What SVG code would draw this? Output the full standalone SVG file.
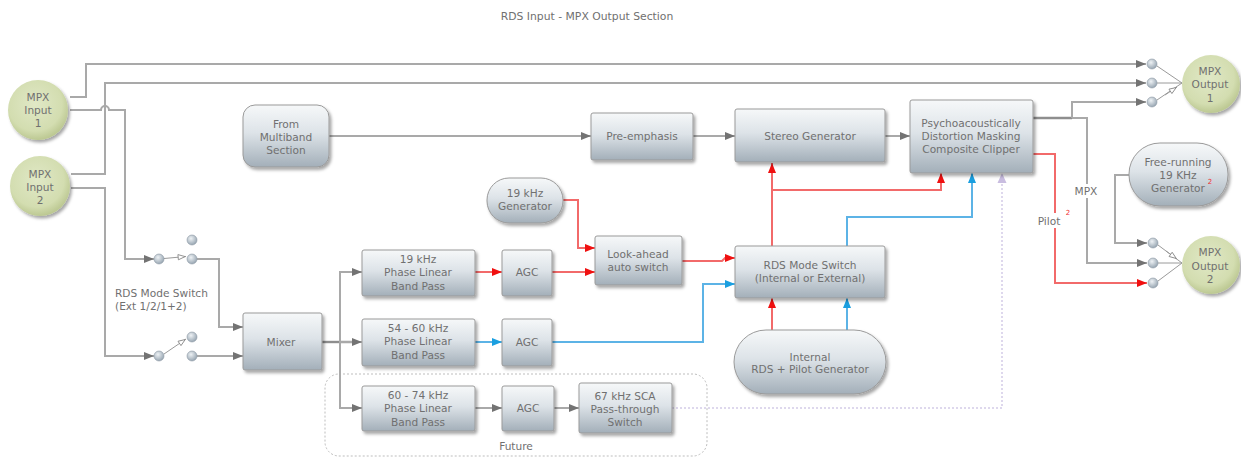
<svg xmlns="http://www.w3.org/2000/svg" width="1241" height="458" viewBox="0 0 1241 458">
<defs>
<linearGradient id="gBox" x1="0" y1="0" x2="0" y2="1">
<stop offset="0" stop-color="#f6f8f9"/><stop offset="0.45" stop-color="#dde3e8"/><stop offset="1" stop-color="#a3afb9"/>
</linearGradient>
<radialGradient id="gCirc" cx="0.45" cy="0.4" r="0.6">
<stop offset="0" stop-color="#e0e8c6"/><stop offset="0.75" stop-color="#d3ddb0"/><stop offset="1" stop-color="#bcc892"/>
</radialGradient>
<radialGradient id="gDot" cx="0.4" cy="0.35" r="0.65">
<stop offset="0" stop-color="#eef2f5"/><stop offset="1" stop-color="#98a6b2"/>
</radialGradient>
<filter id="sh" x="-20%" y="-20%" width="150%" height="160%">
<feDropShadow dx="2" dy="2.5" stdDeviation="1.6" flood-color="#000" flood-opacity="0.35"/>
</filter>
<marker id="ag" viewBox="0 0 10 8" refX="10" refY="4" markerWidth="10" markerHeight="8" markerUnits="userSpaceOnUse" orient="auto"><path d="M0,0 L10,4 L0,8 z" fill="#737373"/></marker>
<marker id="ar" viewBox="0 0 10 8" refX="10" refY="4" markerWidth="10" markerHeight="8" markerUnits="userSpaceOnUse" orient="auto"><path d="M0,0 L10,4 L0,8 z" fill="#f01010"/></marker>
<marker id="ab" viewBox="0 0 10 8" refX="10" refY="4" markerWidth="10" markerHeight="8" markerUnits="userSpaceOnUse" orient="auto"><path d="M0,0 L10,4 L0,8 z" fill="#1a9fe0"/></marker>
<marker id="ao" viewBox="0 0 10 8" refX="10" refY="4" markerWidth="9" markerHeight="7" markerUnits="userSpaceOnUse" orient="auto"><path d="M1,1 L9,4 L1,7 z" fill="#fff" stroke="#8a8a8a" stroke-width="1"/></marker>
</defs>
<style>
.box{fill:url(#gBox);stroke:#9a9a9a;stroke-width:1;filter:url(#sh)}
.circ{fill:url(#gCirc);filter:url(#sh)}
.dot{fill:url(#gDot);stroke:#8d99a4;stroke-width:0.6}
text{font-family:"DejaVu Sans","Liberation Sans",sans-serif;font-size:10.6px;fill:#707070;text-anchor:middle}
.lbl{text-anchor:start}
.sup{font-size:7px;fill:#f03030}
.cg{fill:none;stroke:#a9a9a9;stroke-width:2}
.cgd{fill:none;stroke:#8e8e8e;stroke-width:2.4}
.cr{fill:none;stroke:#f26a6a;stroke-width:2}
.cb{fill:none;stroke:#5cb3e6;stroke-width:2}
.cl{fill:none;stroke:#d4cce8;stroke-width:1.5;stroke-dasharray:2 2}
.thin{fill:none;stroke:#9a9a9a;stroke-width:1}
.fut{fill:none;stroke:#bdbdbd;stroke-width:1;stroke-dasharray:2 2}
</style>
<rect width="1241" height="458" fill="#fff"/>
<text x="587" y="20" style="font-size:10.8px">RDS Input - MPX Output Section</text>

<g id="future">
<rect class="fut" x="325" y="374" width="382" height="82" rx="14"/>
<text x="516" y="450">Future</text>
</g>

<g id="connectors">
<path class="cg" d="M70,97 L86,97 L86,64 L1146,64" marker-end="url(#ag)"/>
<path class="cg" d="M71,174 L105,174 L105,83 L1146,83" marker-end="url(#ag)"/>
<path class="cg" d="M70,110 L101,110 A4,4 0 0 1 109,110 L125,110 L125,259 L154,259" marker-end="url(#ag)"/>
<path class="cg" d="M71,188 L105,188 L105,356 L154,356" marker-end="url(#ag)"/>
<path class="cg" d="M197,259 L219,259 L219,327 L243,327" marker-end="url(#ag)"/>
<path class="cg" d="M197,356 L243,356" marker-end="url(#ag)"/>
<path class="cgd" d="M322,342 L352,342"/>
<path class="cg" d="M340,342 L362,342" marker-end="url(#ag)"/>
<path class="cg" d="M340,342 L340,272 L362,272" marker-end="url(#ag)"/>
<path class="cg" d="M340,342 L340,408 L362,408" marker-end="url(#ag)"/>
<path class="cg" d="M329,136 L591,136" marker-end="url(#ag)"/>
<path class="cg" d="M693,136 L735,136" marker-end="url(#ag)"/>
<path class="cg" d="M885,136 L910,136" marker-end="url(#ag)"/>
<path class="cr" d="M475,272 L502,272" marker-end="url(#ar)"/>
<path class="cr" d="M552,272 L595,272" marker-end="url(#ar)"/>
<path class="cr" d="M563,200 L578,200 L578,248 L595,248" marker-end="url(#ar)"/>
<path class="cr" d="M682,261 L722,261 L725,258 L735,258" marker-end="url(#ar)"/>
<path class="cb" d="M475,342 L502,342" marker-end="url(#ab)"/>
<path class="cb" d="M552,342 L703,342 L703,284 L735,284" marker-end="url(#ab)"/>
<path class="cg" d="M475,408 L502,408" marker-end="url(#ag)"/>
<path class="cg" d="M554,408 L579,408" marker-end="url(#ag)"/>
<path class="cl" d="M672,408 L1002,408 L1002,182"/>
<polygon points="997.5,183 1002,173 1006.5,183" fill="#c9bde0"/>
<path class="cr" d="M772,330 L772,298" marker-end="url(#ar)"/>
<path class="cb" d="M847,330 L847,298" marker-end="url(#ab)"/>
<path class="cr" d="M772,246 L772,163" marker-end="url(#ar)"/>
<path class="cr" d="M772,190 L941,190 L941,173" marker-end="url(#ar)"/>
<path class="cb" d="M847,246 L847,217 L972,217 L972,173" marker-end="url(#ab)"/>
<path class="cgd" d="M1033,118 L1072,118"/>
<path class="cg" d="M1072,118 L1072,102 L1146,102" marker-end="url(#ag)"/>
<path class="cg" d="M1072,118 L1087,118 L1087,263 L1147,263" marker-end="url(#ag)"/>
<path class="cr" d="M1033,154 L1055,154 L1055,283 L1147,283" marker-end="url(#ar)"/>
<path class="cg" d="M1129,175 L1115,175 L1115,243 L1147,243" marker-end="url(#ag)"/>
<rect x="1072" y="184" width="27" height="14" fill="#fff"/>
<text x="1086" y="195">MPX</text>
<rect x="1034" y="213" width="30" height="15" fill="#fff"/>
<text x="1049" y="225">Pilot</text>
<text class="sup" x="1068" y="215">2</text>
<!-- input switches -->
<path class="thin" d="M164,258.5 L186,256.5" marker-end="url(#ao)"/>
<path class="thin" d="M164,354 L186,339" marker-end="url(#ao)"/>
<!-- output switches -->
<path class="thin" d="M1157,66 L1182,83"/>
<path class="thin" d="M1157,83 L1182,83"/>
<path class="thin" d="M1157,100 L1182,83"/>
<path class="thin" d="M1165,95 L1177,87" marker-end="url(#ao)"/>
<path class="thin" d="M1158,245 L1182,263"/>
<path class="thin" d="M1158,263 L1182,263"/>
<path class="thin" d="M1158,281 L1182,263"/>
<path class="thin" d="M1166,251 L1177,259" marker-end="url(#ao)"/>
<circle class="dot" cx="159" cy="259" r="5"/>
<circle class="dot" cx="192" cy="259" r="5"/>
<circle class="dot" cx="192" cy="240" r="5"/>
<circle class="dot" cx="159" cy="356" r="5"/>
<circle class="dot" cx="192" cy="356" r="5"/>
<circle class="dot" cx="192" cy="337" r="5"/>
<circle class="dot" cx="1152" cy="64" r="5"/>
<circle class="dot" cx="1152" cy="83" r="5"/>
<circle class="dot" cx="1152" cy="102" r="5"/>
<circle class="dot" cx="1153" cy="243" r="5"/>
<circle class="dot" cx="1153" cy="263" r="5"/>
<circle class="dot" cx="1153" cy="283" r="5"/>
<text class="lbl" x="115" y="297">RDS Mode Switch</text>
<text class="lbl" x="115" y="310">(Ext 1/2/1+2)</text>
</g>

<g id="mpx-in-1"><circle class="circ" cx="38" cy="110" r="30"/><text x="38" y="101">MPX</text><text x="38" y="114">Input</text><text x="38" y="127">1</text></g>
<g id="mpx-in-2"><circle class="circ" cx="40" cy="186" r="30"/><text x="40" y="178">MPX</text><text x="40" y="191">Input</text><text x="40" y="204">2</text></g>
<g id="mpx-out-1"><circle class="circ" cx="1211" cy="84" r="29"/><text x="1210" y="75">MPX</text><text x="1210" y="88">Output</text><text x="1210" y="102">1</text></g>
<g id="mpx-out-2"><circle class="circ" cx="1211" cy="265" r="29"/><text x="1210" y="256">MPX</text><text x="1210" y="270">Output</text><text x="1210" y="283">2</text></g>

<g id="multiband"><rect class="box" x="243" y="105" width="86" height="62" rx="12"/><text x="286" y="128">From</text><text x="286" y="141">Multiband</text><text x="286" y="154">Section</text></g>
<g id="preemph"><rect class="box" x="591" y="113" width="102" height="47" rx="2"/><text x="642" y="140">Pre-emphasis</text></g>
<g id="stereo"><rect class="box" x="735" y="109" width="150" height="53" rx="2"/><text x="810" y="140">Stereo Generator</text></g>
<g id="clipper"><rect class="box" x="910" y="100" width="123" height="73" rx="2"/><text x="971" y="127">Psychoacoustically</text><text x="971" y="140">Distortion Masking</text><text x="971" y="153">Composite Clipper</text></g>
<g id="gen19"><rect class="box" x="487" y="178" width="76" height="45" rx="22"/><text x="525" y="197">19 kHz</text><text x="525" y="210">Generator</text></g>
<g id="freerun"><rect class="box" x="1129" y="143" width="99" height="63" rx="31"/><text x="1178" y="166">Free-running</text><text x="1178" y="179">19 KHz</text><text x="1178" y="192">Generator</text><text class="sup" x="1210" y="184">2</text></g>
<g id="mixer"><rect class="box" x="243" y="313" width="79" height="57" rx="2"/><text x="281" y="346">Mixer</text></g>
<g id="bp19"><rect class="box" x="362" y="250" width="113" height="46" rx="2"/><text x="418" y="263">19 kHz</text><text x="418" y="276">Phase Linear</text><text x="418" y="290">Band Pass</text></g>
<g id="bp54"><rect class="box" x="362" y="319" width="113" height="47" rx="2"/><text x="418" y="332">54 - 60 kHz</text><text x="418" y="345">Phase Linear</text><text x="418" y="359">Band Pass</text></g>
<g id="bp60"><rect class="box" x="362" y="386" width="113" height="45" rx="2"/><text x="418" y="399">60 - 74 kHz</text><text x="418" y="412">Phase Linear</text><text x="418" y="426">Band Pass</text></g>
<g id="agc1"><rect class="box" x="502" y="250" width="50" height="46" rx="2"/><text x="527" y="276">AGC</text></g>
<g id="agc2"><rect class="box" x="502" y="319" width="50" height="47" rx="2"/><text x="527" y="346">AGC</text></g>
<g id="agc3"><rect class="box" x="502" y="386" width="52" height="45" rx="2"/><text x="528" y="412">AGC</text></g>
<g id="lookahead"><rect class="box" x="595" y="236" width="87" height="49" rx="2"/><text x="638" y="258">Look-ahead</text><text x="638" y="271">auto switch</text></g>
<g id="sca"><rect class="box" x="579" y="383" width="93" height="50" rx="2"/><text x="625" y="400">67 kHz SCA</text><text x="625" y="413">Pass-through</text><text x="625" y="426">Switch</text></g>
<g id="rdsmode"><rect class="box" x="735" y="246" width="150" height="52" rx="2"/><text x="810" y="269">RDS Mode Switch</text><text x="810" y="282">(Internal or External)</text></g>
<g id="internal"><rect class="box" x="734" y="330" width="152" height="64" rx="32"/><text x="810" y="361">Internal</text><text x="810" y="373">RDS + Pilot Generator</text></g>
</svg>
